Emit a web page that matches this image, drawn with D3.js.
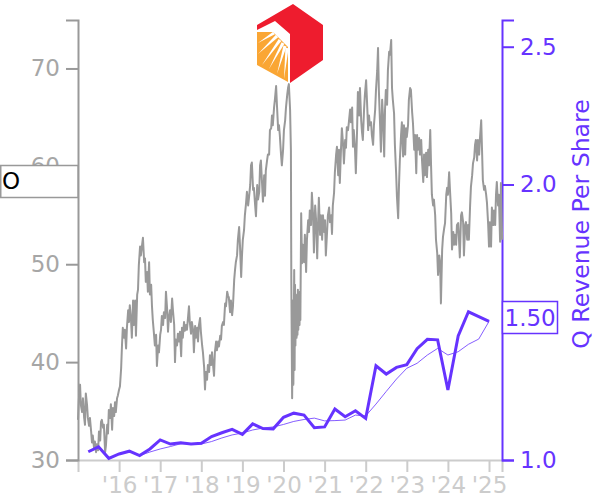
<!DOCTYPE html>
<html><head><meta charset="utf-8">
<script src="https://cdn.jsdelivr.net/npm/d3@7/dist/d3.min.js"></script>
<style>html,body{margin:0;padding:0;background:#fff}svg{display:block}text{font-family:"DejaVu Sans",sans-serif}</style>
</head><body><svg id="c" width="600" height="500"></svg>
<script>
const xTickYears=[2016,2017,2018,2019,2020,2021,2022,2023,2024,2025];
const xTickLabels=["'16","'17","'18","'19","'20","'21","'22","'23","'24","'25"];
const leftTicks=[30,40,50,60,70];
const rightTicks=[1.0,2.0,2.5];
const tickerLabel="O";
const lastRevenueLabel="1.50";
const rightTitle="Q Revenue Per Share";
const priceDates=[15.00,15.02,15.05,15.07,15.10,15.12,15.15,15.17,15.19,15.22,15.24,15.27,15.29,15.32,15.34,15.36,15.39,15.41,15.44,15.46,15.49,15.51,15.54,15.56,15.58,15.61,15.63,15.66,15.68,15.71,15.73,15.75,15.78,15.80,15.83,15.85,15.88,15.90,15.92,15.95,15.97,16.00,16.02,16.05,16.07,16.09,16.12,16.14,16.17,16.19,16.22,16.24,16.26,16.29,16.31,16.34,16.36,16.39,16.41,16.44,16.46,16.48,16.51,16.53,16.56,16.58,16.61,16.63,16.65,16.68,16.70,16.73,16.75,16.78,16.80,16.82,16.85,16.87,16.90,16.92,16.95,16.97,17.00,17.02,17.04,17.07,17.09,17.12,17.14,17.17,17.19,17.21,17.24,17.26,17.29,17.31,17.34,17.36,17.38,17.41,17.43,17.46,17.48,17.51,17.53,17.55,17.58,17.60,17.63,17.65,17.68,17.70,17.72,17.75,17.77,17.80,17.82,17.85,17.87,17.90,17.92,17.94,17.97,17.99,18.02,18.04,18.07,18.09,18.11,18.14,18.16,18.19,18.21,18.24,18.26,18.28,18.31,18.33,18.36,18.38,18.41,18.43,18.46,18.48,18.50,18.53,18.55,18.58,18.60,18.63,18.65,18.67,18.70,18.72,18.75,18.77,18.80,18.82,18.84,18.87,18.89,18.92,18.94,18.97,18.99,19.01,19.04,19.06,19.09,19.11,19.14,19.16,19.19,19.21,19.23,19.26,19.28,19.31,19.33,19.36,19.38,19.41,19.43,19.45,19.48,19.50,19.53,19.55,19.57,19.60,19.62,19.65,19.67,19.70,19.72,19.74,19.77,19.79,19.82,19.84,19.87,19.89,19.91,19.94,19.96,19.99,20.01,20.04,20.06,20.09,20.11,20.13,20.16,20.18,20.19,20.21,20.23,20.24,20.26,20.27,20.28,20.29,20.30,20.32,20.33,20.34,20.35,20.36,20.38,20.39,20.40,20.41,20.43,20.45,20.47,20.50,20.52,20.55,20.57,20.60,20.62,20.64,20.67,20.69,20.72,20.74,20.77,20.79,20.82,20.84,20.86,20.89,20.91,20.94,20.96,20.99,21.01,21.03,21.06,21.08,21.11,21.13,21.16,21.18,21.20,21.23,21.25,21.28,21.30,21.33,21.35,21.37,21.40,21.42,21.45,21.47,21.50,21.52,21.54,21.57,21.59,21.62,21.64,21.67,21.69,21.71,21.74,21.76,21.79,21.81,21.84,21.86,21.89,21.91,21.93,21.96,21.98,22.01,22.03,22.06,22.08,22.10,22.13,22.15,22.18,22.20,22.23,22.25,22.28,22.30,22.32,22.35,22.37,22.40,22.42,22.45,22.47,22.49,22.52,22.54,22.57,22.59,22.62,22.64,22.66,22.69,22.71,22.74,22.76,22.79,22.81,22.83,22.86,22.88,22.91,22.93,22.96,22.98,23.00,23.03,23.05,23.08,23.10,23.13,23.15,23.18,23.20,23.23,23.25,23.27,23.30,23.32,23.35,23.37,23.40,23.42,23.44,23.47,23.49,23.52,23.54,23.57,23.59,23.61,23.64,23.66,23.69,23.71,23.74,23.76,23.79,23.81,23.83,23.86,23.88,23.91,23.93,23.96,23.98,24.00,24.03,24.05,24.08,24.10,24.13,24.15,24.17,24.20,24.22,24.25,24.27,24.29,24.32,24.34,24.37,24.39,24.42,24.44,24.47,24.49,24.51,24.54,24.56,24.59,24.61,24.64,24.66,24.68,24.71,24.73,24.76,24.78,24.81,24.83,24.85,24.88,24.90,24.93,24.95,24.98,25.00,25.02,25.05,25.07,25.10,25.12,25.15,25.17,25.19,25.22,25.24,25.27,25.29,25.32];
const prices=[34.1,36.1,37.7,35.6,34.9,36.3,34.3,33.6,36.8,35.6,34.3,33.5,34.3,32.9,31.8,32.5,31.2,31.9,30.8,31.6,31.0,32.9,32.0,33.9,34.1,33.3,33.6,30.8,31.5,33.6,32.7,35.1,34.3,35.7,33.1,35.3,34.5,35.9,34.9,36.3,36.6,37.2,37.5,39.4,41.7,43.5,42.5,43.3,41.4,43.5,45.3,44.1,45.8,44.3,42.5,46.3,43.8,46.3,42.7,46.9,47.4,49.9,51.8,50.9,52.0,52.7,50.2,50.6,48.2,49.2,47.2,50.2,46.9,47.9,45.7,44.3,42.8,41.7,42.8,39.6,41.7,41.0,42.8,43.3,44.7,43.8,45.1,44.5,47.2,45.3,43.1,44.5,45.3,44.1,46.5,45.3,43.8,40.0,42.3,41.7,42.9,42.1,43.1,40.6,43.5,42.5,44.1,43.2,43.8,43.3,44.7,45.7,44.1,42.9,44.1,43.3,41.0,43.7,42.5,43.5,42.1,43.7,44.5,43.1,41.7,41.0,39.4,37.2,39.0,38.2,39.7,39.0,40.7,39.7,41.0,40.0,38.6,41.0,42.1,41.2,42.1,41.6,42.7,42.3,43.7,44.1,43.8,46.0,45.7,47.2,46.8,46.6,45.1,46.3,44.8,45.7,48.4,49.4,50.2,50.9,52.5,53.8,52.0,48.7,50.9,52.5,53.5,55.0,56.3,57.4,56.0,56.8,58.1,60.1,60.4,57.6,57.8,56.0,54.9,58.1,56.6,57.4,60.1,60.6,58.1,56.4,59.1,57.0,59.6,60.6,61.2,61.2,63.7,63.9,65.2,64.2,66.0,66.8,68.2,66.3,63.7,64.2,63.2,61.2,60.1,61.7,63.7,64.7,66.0,67.3,68.0,68.4,65.8,61.7,48.4,36.3,46.3,37.7,49.4,39.2,47.9,41.7,46.9,42.5,46.3,42.8,47.4,43.3,46.9,43.8,47.2,44.3,55.2,50.1,52.0,50.2,53.0,49.2,52.5,54.5,53.3,55.5,54.0,57.3,55.0,51.2,56.0,54.7,50.6,54.0,56.8,53.0,55.0,52.5,55.0,53.3,54.5,50.9,53.3,55.0,55.8,54.3,55.0,53.1,56.0,57.3,59.4,61.2,62.0,59.1,61.7,58.3,61.9,63.9,62.2,60.3,62.7,61.9,64.0,63.7,64.5,65.8,64.5,66.0,62.0,63.7,61.7,59.3,63.7,67.6,65.2,68.0,64.7,63.5,62.7,65.8,67.3,68.8,66.8,63.7,65.2,64.2,64.5,63.2,62.2,64.2,65.8,67.8,69.8,72.1,67.8,64.2,61.5,66.8,65.2,61.0,65.8,67.8,66.3,69.8,71.7,71.4,72.9,68.0,66.8,65.4,62.2,59.3,56.9,54.7,58.1,60.6,63.2,64.5,61.0,64.2,61.2,63.9,63.0,64.2,66.8,68.0,67.8,65.5,64.4,61.7,63.2,59.3,63.2,61.7,62.9,61.2,62.7,60.6,58.4,61.2,59.1,61.4,58.9,61.7,60.1,63.7,60.1,57.1,56.0,56.6,55.0,52.5,51.1,48.9,50.9,50.2,46.0,51.5,52.8,53.7,54.2,57.1,57.8,57.1,59.4,57.6,55.2,51.5,53.3,52.0,53.0,52.0,54.0,54.2,52.5,50.7,55.0,55.3,54.3,50.9,54.0,54.3,52.5,54.0,52.5,56.0,57.9,59.1,60.3,60.9,62.2,62.7,60.6,62.7,61.2,62.9,64.7,61.7,58.6,57.6,58.0,57.1,56.3,54.0,51.8,54.3,51.8,55.8,54.0,55.5,54.0,57.1,58.4,56.0,57.1,52.3,58.3,52.5];
const revenueDates=[15.25,15.5,15.75,16,16.25,16.5,16.75,17,17.25,17.5,17.75,18,18.25,18.5,18.75,19,19.25,19.5,19.75,20,20.25,20.5,20.75,21,21.25,21.5,21.75,22,22.25,22.5,22.75,23,23.25,23.5,23.75,24,24.25,24.5,25];
const revenue=[1.030,1.048,1.006,1.022,1.032,1.016,1.040,1.073,1.058,1.063,1.058,1.061,1.085,1.099,1.111,1.093,1.131,1.114,1.113,1.155,1.170,1.163,1.117,1.120,1.185,1.157,1.179,1.151,1.342,1.312,1.336,1.346,1.404,1.438,1.436,1.254,1.450,1.538,1.503];
const trendDates=[16.5,16.75,17,17.25,17.5,17.75,18,18.25,18.5,18.75,19,19.25,19.5,19.75,20,20.25,20.5,20.75,21,21.25,21.5,21.75,22,22.25,22.5,22.75,23,23.25,23.5,23.75,24,24.25,24.5,24.75,25];
const trend=[1.016,1.029,1.040,1.049,1.059,1.058,1.058,1.067,1.080,1.091,1.098,1.109,1.116,1.120,1.129,1.140,1.147,1.152,1.142,1.143,1.145,1.163,1.160,1.203,1.249,1.294,1.333,1.351,1.381,1.405,1.381,1.393,1.420,1.439,1.503];

const PURPLE="#6633ff", GREY="#999999";
const svg=d3.select("#c");
const x=d3.scaleLinear().domain([15,25.316]).range([78,502]);
const yL=d3.scaleLinear().domain([30,74.95]).range([460,20]);
const yR=d3.scaleLinear().domain([1,2.597]).range([460,20]);

function style(g,color,lw,txt){
  g.selectAll("path.domain").attr("stroke",color).attr("stroke-width",lw);
  g.selectAll(".tick line").attr("stroke",color).attr("stroke-width",lw);
  g.selectAll("text").attr("fill",txt).attr("font-size",23).attr("font-family",'"DejaVu Sans"');
}
const gx=svg.append("g").attr("transform","translate(0,460)")
  .call(d3.axisBottom(x).tickValues(xTickYears.map(d=>d-2000)).tickFormat((d,i)=>xTickLabels[i]).tickSize(12).tickPadding(5));
style(gx,"#cccccc",2,"#cccccc");
const gl=svg.append("g").attr("transform","translate(78,0)")
  .call(d3.axisLeft(yL).tickValues(leftTicks).tickSize(12).tickPadding(6));
style(gl,GREY,2,"#a6a6a6");
const gr=svg.append("g").attr("transform","translate(502,0)")
  .call(d3.axisRight(yR).tickValues(rightTicks).tickFormat(d3.format(".1f")).tickSize(12).tickPadding(6));
style(gr,PURPLE,2,PURPLE);

const line=(ys)=>d3.line().x(d=>x(d[0])).y(d=>ys(d[1]));
svg.append("path").datum(d3.zip(priceDates,prices)).attr("fill","none").attr("stroke",GREY).attr("stroke-width",2).attr("stroke-linejoin","round").attr("d",line(yL));
svg.append("path").datum(d3.zip(trendDates,trend)).attr("fill","none").attr("stroke",PURPLE).attr("stroke-width",0.8).attr("d",line(yR));
svg.append("path").datum(d3.zip(revenueDates,revenue)).attr("fill","none").attr("stroke",PURPLE).attr("stroke-width",3).attr("stroke-linejoin","miter").attr("d",line(yR));

// ticker box
svg.append("rect").attr("x",0.75).attr("y",165.5).attr("width",77.25).attr("height",32).attr("fill","#fff").attr("stroke",GREY).attr("stroke-width",1.5);
svg.append("text").attr("x",2).attr("y",189).attr("font-size",23).attr("fill","#000").text(tickerLabel);
// last value box
svg.append("rect").attr("x",502.5).attr("y",301.5).attr("width",55).attr("height",32).attr("fill","#fff").attr("stroke",PURPLE).attr("stroke-width",1.5);
svg.append("text").attr("x",504.5).attr("y",325.5).attr("font-size",23).attr("fill",PURPLE).text(lastRevenueLabel);
// right axis title
svg.append("text").attr("transform","translate(589,224) rotate(-90)").attr("text-anchor","middle").attr("font-size",23.6).attr("fill",PURPLE).text(rightTitle);

// logo
const logo=svg.append("g");
logo.append("polygon").attr("points","257,25 293,4 323,25 323,60 290,83 290,34 275,21 257,30").attr("fill","#ee1c2e");
logo.append("polygon").attr("points","257,32 273,32 288,47 288,82 257,65").attr("fill","#faa634");
[["274,33","258,43"],["277,36","258,54"],["280,40","262,65"],["283,43","269,69"],["285,46","277,74"],["287,48","284,79"]].forEach(([a,b])=>{
  const [ax,ay]=a.split(",").map(Number),[bx,by]=b.split(",").map(Number);
  const dx=by-ay,dy=ax-bx,l=Math.hypot(dx,dy),w=1.6;
  logo.append("polygon").attr("points",`${ax+dx/l*w},${ay+dy/l*w} ${ax-dx/l*w},${ay-dy/l*w} ${bx},${by}`).attr("fill","#fff");
});
</script></body></html>
